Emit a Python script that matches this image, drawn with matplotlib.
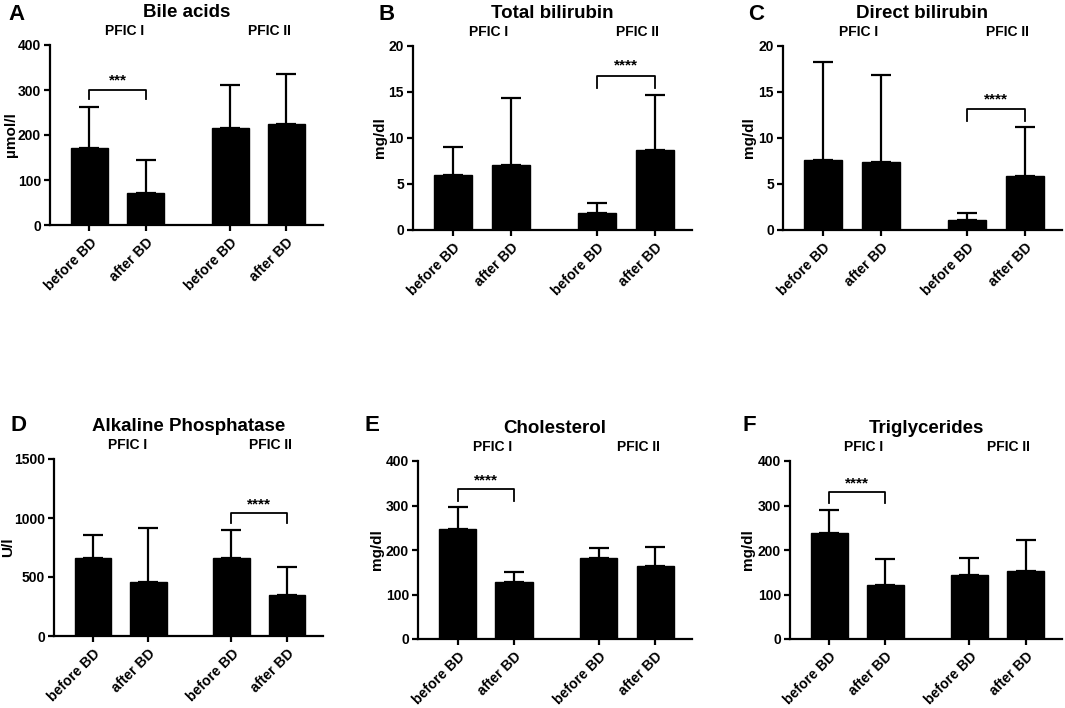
import matplotlib
matplotlib.use("Agg")
import matplotlib.pyplot as plt
import matplotlib.transforms as mtransforms

plt.rcParams['font.family'] = ['Liberation Sans', 'DejaVu Sans']
plt.rcParams['font.weight'] = 'bold'

# ---------------- data ----------------
groups = ["PFIC I", "PFIC II"]
conditions = ["before BD", "after BD", "before BD", "after BD"]

titles = ["Bile acids", "Total bilirubin", "Direct bilirubin",
          "Alkaline Phosphatase", "Cholesterol", "Triglycerides"]
letters = ["A", "B", "C", "D", "E", "F"]
ylabels = ["µmol/l", "mg/dl", "mg/dl", "U/l", "mg/dl", "mg/dl"]

bile_mean = [172, 72, 216, 224]
bile_sd = [90, 73, 95, 112]
tbili_mean = [6.0, 7.1, 1.8, 8.7]
tbili_sd = [3.0, 7.3, 1.1, 6.0]
dbili_mean = [7.6, 7.4, 1.1, 5.9]
dbili_sd = [10.7, 9.4, 0.7, 5.3]
alp_mean = [660, 455, 660, 345]
alp_sd = [200, 460, 235, 240]
chol_mean = [247, 127, 183, 164]
chol_sd = [49, 23, 21, 42]
tg_mean = [238, 121, 143, 153]
tg_sd = [52, 58, 39, 70]

means = [bile_mean, tbili_mean, dbili_mean, alp_mean, chol_mean, tg_mean]
sds = [bile_sd, tbili_sd, dbili_sd, alp_sd, chol_sd, tg_sd]

yticks = [[0, 100, 200, 300, 400], [0, 5, 10, 15, 20], [0, 5, 10, 15, 20],
          [0, 500, 1000, 1500], [0, 100, 200, 300, 400], [0, 100, 200, 300, 400]]

# significance: (bar i, bar j, label, bracket y, leg bottom y, star y)
sig = [(0, 1, "***", 300, 279, 322),
       (2, 3, "****", 16.7, 15.4, 17.9),
       (2, 3, "****", 13.1, 11.9, 14.2),
       (2, 3, "****", 1045, 955, 1115),
       (0, 1, "****", 336, 311, 357),
       (0, 1, "****", 330, 306, 350)]

# ---------------- layout (pixels) ----------------
W, H = 1065, 708
# left, right, top, bottom
boxes = [(50, 323, 45, 225), (413, 692, 46, 230), (783, 1062, 46, 230),
         (54, 323, 459, 636), (418, 692, 461, 639), (790, 1062, 461, 639)]
letter_pos = [(8, 14), (378, 14), (748, 14), (10, 426), (365, 426), (743, 426)]
ylabel_x = [11, 380, 749, 8, 377, 748]

xpos = [0, 1, 2.5, 3.5]
group_x = [0.62, 3.2]

fig = plt.figure(figsize=(W / 100, H / 100), dpi=100)

for k in range(6):
    l, r, t, b = boxes[k]
    ax = fig.add_axes([l / W, 1 - b / H, (r - l) / W, (b - t) / H])
    ax.bar(xpos, means[k], width=0.66, color='black', edgecolor='black', zorder=2)
    ax.errorbar(xpos, means[k], yerr=[[0] * 4, sds[k]], fmt='none',
                ecolor='black', elinewidth=1.6, capsize=7, capthick=1.6, zorder=1)
    ax.set_xlim(-0.7, 4.15)
    ax.set_ylim(0, yticks[k][-1])
    ax.set_yticks(yticks[k])
    ax.set_yticklabels([str(v) for v in yticks[k]], fontsize=10, fontweight='bold')
    ax.set_xticks(xpos)
    ax.set_xticklabels(conditions, rotation=45, ha='right', va='top',
                       rotation_mode='anchor', fontsize=10.2, fontweight='bold')
    for s in ['top', 'right']:
        ax.spines[s].set_visible(False)
    for s in ['left', 'bottom']:
        ax.spines[s].set_linewidth(1.6)
    ax.tick_params(axis='both', direction='out', width=1.6, length=4.5, pad=2)
    ax.tick_params(axis='x', pad=3)

    # title
    ax.set_title(titles[k], fontsize=13.5, fontweight='bold', pad=20)
    # group labels
    trans = mtransforms.blended_transform_factory(ax.transData, ax.transAxes)
    for gx, g in zip(group_x, groups):
        ax.text(gx, 1.04, g, transform=trans, ha='center', va='bottom',
                fontsize=10, fontweight='bold')
    # significance bracket
    i, j, lab, yb, yl, ys = sig[k]
    ax.plot([xpos[i], xpos[i], xpos[j], xpos[j]], [yl, yb, yb, yl],
            color='black', lw=1.3, clip_on=False)
    ax.text((xpos[i] + xpos[j]) / 2, ys, lab, ha='center', va='center',
            fontsize=11, fontweight='bold')

    # panel letter
    lx, ly = letter_pos[k]
    fig.text(lx / W, 1 - ly / H, letters[k], fontsize=16, fontweight='bold',
             ha='left', va='center')
    # y label
    fig.text(ylabel_x[k] / W, 1 - ((t + b) / 2) / H, ylabels[k], rotation=90,
             ha='center', va='center', fontsize=11, fontweight='bold')

fig.savefig("out.png", dpi=100)
